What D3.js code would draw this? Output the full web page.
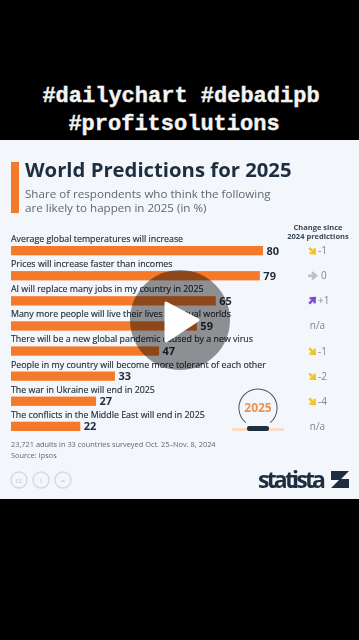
<!DOCTYPE html>
<html>
<head>
<meta charset="utf-8">
<script src="https://cdn.jsdelivr.net/npm/d3@7"></script>
<style>
  html, body { margin: 0; padding: 0; background: #000; }
  svg { display: block; }
  text { font-family: "Open Sans", sans-serif; }
</style>
</head>
<body>
<div id="chart"></div>
<script>
const labels = [
  "Average global temperatures will increase",
  "Prices will increase faster than incomes",
  "AI will replace many jobs in my country in 2025",
  "Many more people will live their lives in virtual worlds",
  "There will be a new global pandemic caused by a new virus",
  "People in my country will become more tolerant of each other",
  "The war in Ukraine will end in 2025",
  "The conflicts in the Middle East will end in 2025"
]
const values = [80, 79, 65, 59, 47, 33, 27, 22]
const changes = ["-1", "0", "+1", "n/a", "-1", "-2", "-4", "n/a"]
const hashtags = ["#dailychart #debadipb", "#profitsolutions"]
const subtitle = ["Share of respondents who think the following", "are likely to happen in 2025 (in %)"]
const changeHead = ["Change since", "2024 predictions"]
const notes = ["23,721 adults in 33 countries surveyed Oct. 25\u2013Nov. 8, 2024", "Source: Ipsos"]

const width = 359, height = 640
const orange = "#f47a2a", navy = "#1f2d3f", grey = "#7b8794"

const svg = d3.select("#chart").append("svg")
    .attr("width", width)
    .attr("height", height)

const defs = svg.append("defs")
defs.append("filter").attr("id", "soft")
    .append("feGaussianBlur").attr("stdDeviation", 0.4)

svg.append("rect").attr("width", width).attr("height", height).attr("fill", "#000")

// the hashtags over the picture
svg.selectAll(".tag").data(hashtags).join("text")
    .attr("class", "tag")
    .attr("x", (d, i) => i ? 174 : 181)
    .attr("y", (d, i) => 102 + i * 28)
    .attr("text-anchor", "middle")
    .style("font-family", "'Liberation Mono', monospace")
    .style("font-weight", 700)
    .style("font-size", "22px")
    .attr("fill", "#f4f4f4")
    .attr("stroke", "#f4f4f4")
    .attr("stroke-width", 0.4)
    .text(d => d)

const card = svg.append("g").attr("filter", "url(#soft)")

card.append("rect").attr("y", 140).attr("width", width).attr("height", 359).attr("fill", "#f3f6fb")

card.append("rect").attr("x", 11).attr("y", 162).attr("width", 8).attr("height", 51).attr("fill", orange)

card.append("text").attr("x", 25).attr("y", 177)
    .style("font-weight", 700).style("font-size", "20.3px")
    .attr("fill", navy).text("World Predictions for 2025")

card.selectAll(".sub").data(subtitle).join("text")
    .attr("class", "sub")
    .attr("x", 25).attr("y", (d, i) => 198 + i * 14)
    .style("font-size", "11.6px").attr("fill", "#5d6875")
    .text(d => d)

card.selectAll(".head").data(changeHead).join("text")
    .attr("class", "head")
    .attr("x", 318).attr("y", (d, i) => 230 + i * 9)
    .attr("text-anchor", "middle")
    .style("font-weight", 700).style("font-size", "7.5px")
    .attr("fill", "#3c4856")
    .text(d => d)

// bars
const x = d3.scaleLinear().domain([0, 80]).range([11, 263])
const y = d3.scaleBand().domain(labels).range([246, 431]).paddingInner(0.63).paddingOuter(0)

const rows = card.selectAll(".row").data(labels).join("g").attr("class", "row")

rows.append("text")
    .attr("x", 11).attr("y", d => y(d) - 4)
    .style("font-size", "8.85px").attr("fill", "#222e3c")
    .attr("stroke", "#222e3c").attr("stroke-width", 0.15)
    .text(d => d)

rows.append("rect")
    .attr("x", x(0)).attr("y", d => y(d))
    .attr("width", (d, i) => x(values[i]) - x(0))
    .attr("height", y.bandwidth())
    .attr("fill", orange)

rows.append("text")
    .attr("x", (d, i) => x(values[i]) + 3.5)
    .attr("y", d => y(d) + y.bandwidth() / 2 + 4)
    .style("font-weight", 700).style("font-size", "11px")
    .attr("fill", navy)
    .text((d, i) => values[i])

// change column
const arrowColour = c => c === "+1" ? "#7b4bd6" : c === "0" ? "#b9c0c8" : "#efc52c"
const arrowTurn = c => c === "+1" ? -45 : c === "0" ? 0 : 45

rows.filter((d, i) => changes[i] !== "n/a").append("path")
    .attr("d", "M-4,0H3M0,-3.5L4,0L0,3.5")
    .attr("fill", "none")
    .attr("stroke-width", 2.4)
    .attr("stroke", d => arrowColour(changes[labels.indexOf(d)]))
    .attr("transform", d => `translate(312,${y(d) + y.bandwidth() / 2}) rotate(${arrowTurn(changes[labels.indexOf(d)])})`)

rows.append("text")
    .attr("x", (d, i) => changes[i] === "n/a" ? 317.5 : changes[i] === "0" ? 321 : 318)
    .attr("y", d => y(d) + y.bandwidth() / 2 + 3.5)
    .attr("text-anchor", (d, i) => changes[i] === "n/a" ? "middle" : "start")
    .style("font-size", "10px").attr("fill", grey)
    .text((d, i) => changes[i])

// crystal ball
const ball = card.append("g").attr("transform", "translate(258,408)")
ball.append("rect").attr("x", -26).attr("y", 20).attr("width", 52).attr("height", 3).attr("fill", "#f9dcc8")
ball.append("path")
    .attr("d", d3.arc().innerRadius(18.6).outerRadius(19.6).startAngle(-2.45).endAngle(2.45)())
    .attr("fill", "#4a5563")
ball.append("rect").attr("x", -11).attr("y", 18).attr("width", 22).attr("height", 5).attr("rx", 2).attr("fill", navy)
ball.append("text").attr("y", 4).attr("text-anchor", "middle")
    .style("font-weight", 700).style("font-size", "12px")
    .attr("fill", "#e8924f").text("2025")

// footer
card.selectAll(".note").data(notes).join("text")
    .attr("class", "note")
    .attr("x", 11).attr("y", (d, i) => 447 + i * 11)
    .style("font-size", "7.4px").attr("fill", "#5d6875")
    .text(d => d)

const licence = card.selectAll(".cc").data(["cc", "i", "="]).join("g")
    .attr("class", "cc")
    .attr("transform", (d, i) => `translate(${[19, 41, 63][i]},480)`)
licence.append("circle").attr("r", 8)
    .attr("fill", "none").attr("stroke", "#d5d9de").attr("stroke-width", 1.4)
licence.append("text").attr("y", 3).attr("text-anchor", "middle")
    .style("font-weight", 700).style("font-size", "7px").attr("fill", "#d5d9de")
    .text(d => d)

card.append("text").attr("x", 258).attr("y", 488)
    .style("font-weight", 700).style("font-size", "23px")
    .attr("fill", navy).attr("textLength", 68).text("statista")
card.append("path").attr("d", "M331,471H349L340,480H331ZM349,488H331L340,479H349Z").attr("fill", navy)

// video play button
svg.append("circle").attr("cx", 180).attr("cy", 320).attr("r", 50).attr("fill", "#000").attr("fill-opacity", 0.42)
svg.append("path")
    .attr("d", d3.line().curve(d3.curveLinearClosed)([[166, 303], [198, 320], [166, 341]]))
    .attr("fill", "#fff").attr("stroke", "#fff").attr("stroke-width", 3).attr("stroke-linejoin", "round")
</script>
</body>
</html>
